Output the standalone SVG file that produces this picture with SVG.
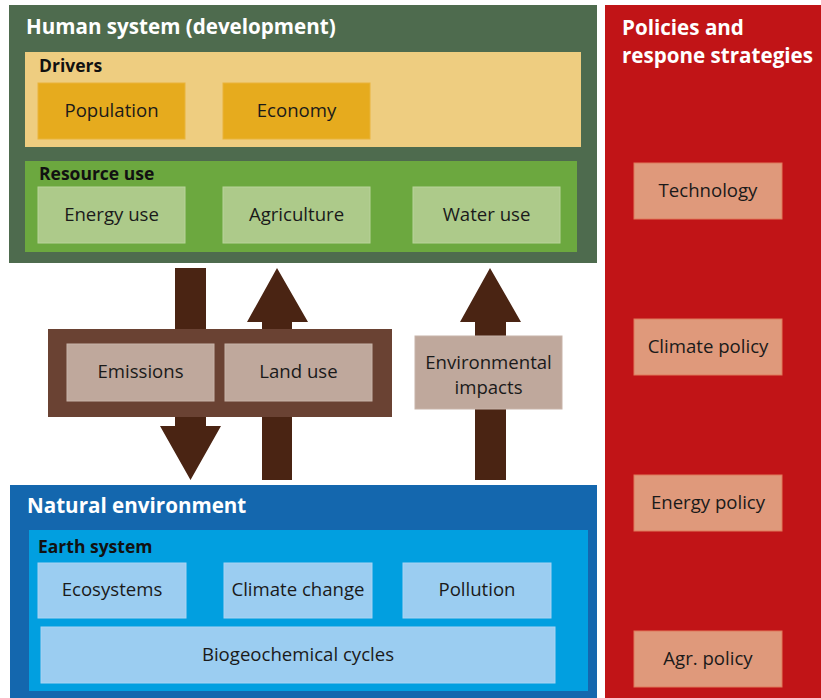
<svg xmlns="http://www.w3.org/2000/svg" width="821" height="698" viewBox="0 0 821 698">
<style>
text{font-family:"Open Sans","Noto Sans","Liberation Sans",sans-serif;}
.title{font-size:20.6px;font-weight:bold;fill:#ffffff;}
.sub{font-size:17.5px;font-weight:bold;fill:#111111;}
.lbl{font-size:18.6px;fill:#1a1a1a;text-anchor:middle;}
.drv{fill:#e6ab1e;stroke:#e9b43a;stroke-width:1;}
.res{fill:#adca8a;stroke:#b9d39b;stroke-width:1;}
.prs{fill:#bfa89c;stroke:#c8b4a9;stroke-width:1;}
.ear{fill:#9bcdf1;stroke:#a9d4f3;stroke-width:1;}
.pol{fill:#df997b;stroke:#e07a5c;stroke-width:1;}
.arr{fill:#4a2413;}
</style>
<rect width="821" height="698" fill="#ffffff"/>
<g id="human-system">
<rect x="9" y="5" width="588" height="258" fill="#4e6b4e"/>
<text class="title" x="26" y="34">Human system (development)</text>
</g>
<g id="drivers">
<rect x="25" y="52" width="556" height="95" fill="#eecd80"/>
<text class="sub" x="39" y="72">Drivers</text>
</g>
<g id="population"><rect class="drv" x="38" y="83" width="147" height="56"/><text class="lbl" x="111.5" y="117">Population</text></g>
<g id="economy"><rect class="drv" x="223" y="83" width="147" height="56"/><text class="lbl" x="296.5" y="117">Economy</text></g>
<g id="resource-use">
<rect x="25" y="161" width="552" height="91" fill="#6ca83f"/>
<text class="sub" x="39" y="180">Resource use</text>
</g>
<g id="energy-use"><rect class="res" x="38" y="187" width="147" height="56"/><text class="lbl" x="111.5" y="221">Energy use</text></g>
<g id="agriculture"><rect class="res" x="223" y="187" width="147" height="56"/><text class="lbl" x="296.5" y="221">Agriculture</text></g>
<g id="water-use"><rect class="res" x="413" y="187" width="147" height="56"/><text class="lbl" x="486.5" y="221">Water use</text></g>
<g id="connectors">
<polygon class="arr" points="175,268 206,268 206,426 221,426 190.5,480 160,426 175,426"/>
<polygon class="arr" points="277,268 308,322 292,322 292,480 262,480 262,322 247,322"/>
<polygon class="arr" points="490,268 521,322 506,322 506,480 475,480 475,322 460,322"/>
</g>
<g id="pressures">
<rect x="48" y="329" width="344" height="88" fill="#6a4233"/>
</g>
<g id="emissions"><rect class="prs" x="67" y="344" width="147" height="57"/><text class="lbl" x="140.5" y="378">Emissions</text></g>
<g id="land-use"><rect class="prs" x="225" y="344" width="147" height="57"/><text class="lbl" x="298.5" y="378">Land use</text></g>
<g id="environmental-impacts"><rect class="prs" x="415" y="336" width="147" height="73"/><text class="lbl" x="488.5" y="369">Environmental</text><text class="lbl" x="488.5" y="394">impacts</text></g>
<g id="natural-environment">
<rect x="10" y="485" width="587" height="213" fill="#1467ae"/>
<text class="title" x="27" y="513">Natural environment</text>
</g>
<g id="earth-system">
<rect x="29" y="530" width="559" height="161" fill="#019fe0"/>
<text class="sub" x="38" y="553">Earth system</text>
</g>
<g id="ecosystems"><rect class="ear" x="38" y="563" width="148" height="55"/><text class="lbl" x="112" y="596">Ecosystems</text></g>
<g id="climate-change"><rect class="ear" x="224" y="563" width="148" height="55"/><text class="lbl" x="298" y="596">Climate change</text></g>
<g id="pollution"><rect class="ear" x="403" y="563" width="148" height="55"/><text class="lbl" x="477" y="596">Pollution</text></g>
<g id="biogeochemical-cycles"><rect class="ear" x="41" y="627" width="514" height="56"/><text class="lbl" x="298" y="661">Biogeochemical cycles</text></g>
<g id="policies">
<rect x="605" y="5" width="216" height="693" fill="#c11417"/>
<text class="title" x="622" y="35">Policies and</text>
<text class="title" x="622" y="63">respone strategies</text>
</g>
<g id="technology"><rect class="pol" x="634" y="163" width="148" height="56"/><text class="lbl" x="708" y="197">Technology</text></g>
<g id="climate-policy"><rect class="pol" x="634" y="319" width="148" height="56"/><text class="lbl" x="708" y="353">Climate policy</text></g>
<g id="energy-policy"><rect class="pol" x="634" y="475" width="148" height="56"/><text class="lbl" x="708" y="509">Energy policy</text></g>
<g id="agr-policy"><rect class="pol" x="634" y="631" width="148" height="56"/><text class="lbl" x="708" y="665">Agr. policy</text></g>
</svg>
